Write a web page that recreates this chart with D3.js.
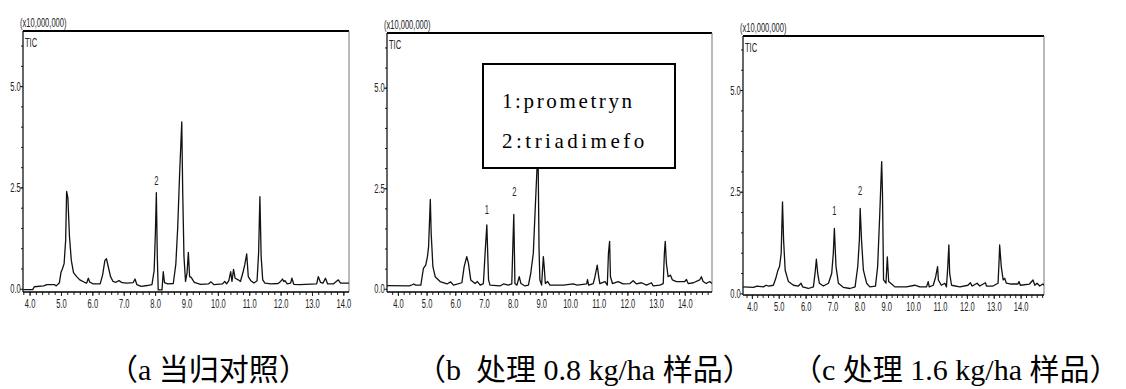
<!DOCTYPE html>
<html>
<head>
<meta charset="utf-8">
<script src="https://cdn.jsdelivr.net/npm/d3@7"></script>
<style>
  body { margin: 0; background: #fff; }
  svg { display: block; }
</style>
</head>
<body>
<div id="vis"></div>
<script>
// retention time (min), TIC intensity (x10,000,000)
var traceA = [[3.80,-0.02],[4.10,-0.02],[4.15,0.05],[4.45,0.07],[4.55,0.10],[4.80,0.10],[4.85,0.07],[4.95,0.15],[5.00,0.40],[5.05,0.50],[5.10,0.62],[5.15,1.20],[5.18,2.40],[5.22,2.25],[5.27,1.30],[5.33,0.70],[5.40,0.40],[5.50,0.30],[5.60,0.22],[5.75,0.16],[5.82,0.14],[5.87,0.26],[5.92,0.16],[6.03,0.12],[6.25,0.12],[6.33,0.35],[6.40,0.70],[6.45,0.74],[6.52,0.50],[6.58,0.30],[6.66,0.18],[6.75,0.16],[6.85,0.20],[6.95,0.15],[7.10,0.14],[7.30,0.15],[7.36,0.24],[7.42,0.10],[7.55,0.06],[7.75,0.08],[7.90,0.10],[7.97,0.45],[8.01,1.40],[8.04,2.37],[8.07,0.80],[8.10,-0.03],[8.22,-0.03],[8.26,0.42],[8.30,0.15],[8.40,0.12],[8.58,0.13],[8.66,0.60],[8.72,1.50],[8.78,2.80],[8.85,4.12],[8.88,2.40],[8.92,0.80],[8.97,0.18],[9.02,0.40],[9.06,0.90],[9.10,0.30],[9.15,0.28],[9.25,0.16],[9.45,0.11],[9.70,0.12],[9.78,0.17],[9.88,0.10],[10.15,0.12],[10.22,0.18],[10.28,0.12],[10.35,0.20],[10.41,0.42],[10.45,0.18],[10.50,0.48],[10.55,0.26],[10.65,0.22],[10.72,0.18],[10.80,0.40],[10.86,0.60],[10.92,0.86],[10.97,0.30],[11.05,0.20],[11.15,0.14],[11.25,0.20],[11.30,0.90],[11.34,2.27],[11.38,0.80],[11.43,0.22],[11.50,0.14],[11.70,0.12],[11.92,0.13],[12.00,0.18],[12.06,0.24],[12.10,0.18],[12.14,0.20],[12.21,0.12],[12.32,0.14],[12.36,0.26],[12.42,0.11],[12.61,0.10],[13.15,0.12],[13.20,0.30],[13.27,0.16],[13.35,0.14],[13.43,0.26],[13.50,0.12],[13.68,0.12],[13.84,0.22],[13.91,0.14],[14.18,0.14]];

var traceB = [[3.62,0.08],[4.40,0.07],[4.50,0.10],[4.55,0.12],[4.62,0.09],[4.80,0.09],[4.89,0.51],[4.97,0.59],[5.03,0.80],[5.07,1.05],[5.13,2.22],[5.16,1.38],[5.22,0.55],[5.30,0.30],[5.47,0.18],[5.71,0.12],[5.84,0.17],[5.94,0.09],[6.23,0.15],[6.31,0.55],[6.40,0.80],[6.46,0.63],[6.54,0.22],[6.69,0.13],[6.77,0.18],[6.87,0.09],[6.98,0.13],[7.04,0.88],[7.10,1.59],[7.16,0.22],[7.21,0.09],[7.56,0.07],[7.68,0.12],[7.85,0.09],[7.97,0.12],[8.00,0.88],[8.04,1.85],[8.08,0.13],[8.15,0.09],[8.23,0.30],[8.29,0.13],[8.43,0.07],[8.55,0.09],[8.63,0.38],[8.72,0.88],[8.80,2.20],[8.85,3.00],[8.88,3.80],[8.92,1.00],[8.95,0.22],[9.01,0.09],[9.07,0.80],[9.10,0.55],[9.14,0.13],[9.22,0.18],[9.30,0.09],[9.77,0.09],[10.11,0.12],[10.25,0.09],[10.58,0.12],[10.61,0.23],[10.65,0.09],[10.81,0.13],[10.87,0.30],[10.95,0.59],[11.00,0.30],[11.04,0.13],[11.22,0.18],[11.30,0.09],[11.34,0.88],[11.38,1.18],[11.41,0.30],[11.48,0.13],[11.68,0.18],[11.85,0.12],[12.09,0.13],[12.20,0.20],[12.32,0.12],[12.49,0.15],[12.67,0.09],[12.84,0.15],[12.90,0.07],[13.13,0.09],[13.25,0.13],[13.29,0.88],[13.32,1.18],[13.36,0.63],[13.42,0.30],[13.50,0.34],[13.57,0.22],[13.71,0.18],[14.00,0.18],[14.06,0.23],[14.12,0.13],[14.30,0.15],[14.52,0.22],[14.58,0.30],[14.64,0.18],[14.75,0.13],[14.87,0.18],[14.95,0.13]];

var traceC = [[3.67,0.16],[4.06,0.15],[4.19,0.18],[4.43,0.16],[4.53,0.20],[4.62,0.18],[4.80,0.20],[4.89,0.37],[4.97,0.57],[5.03,0.66],[5.09,0.98],[5.14,2.25],[5.18,1.31],[5.24,0.57],[5.36,0.29],[5.55,0.20],[5.73,0.18],[5.83,0.25],[5.89,0.16],[6.10,0.12],[6.29,0.16],[6.35,0.49],[6.40,0.84],[6.45,0.49],[6.51,0.25],[6.66,0.18],[6.85,0.25],[6.97,0.49],[7.03,0.98],[7.07,1.60],[7.13,0.66],[7.22,0.25],[7.40,0.15],[7.65,0.12],[7.84,0.16],[7.94,0.66],[8.00,1.31],[8.03,2.09],[8.08,1.31],[8.15,0.57],[8.27,0.25],[8.39,0.16],[8.60,0.18],[8.68,0.66],[8.76,1.97],[8.83,3.24],[8.86,2.46],[8.90,0.33],[8.99,0.25],[9.04,0.90],[9.09,0.29],[9.20,0.23],[9.32,0.16],[9.75,0.16],[10.06,0.20],[10.25,0.16],[10.50,0.16],[10.56,0.29],[10.60,0.16],[10.75,0.20],[10.84,0.41],[10.91,0.66],[10.94,0.33],[11.05,0.20],[11.18,0.25],[11.24,0.16],[11.29,0.66],[11.33,1.19],[11.36,0.49],[11.43,0.20],[11.74,0.16],[12.04,0.20],[12.13,0.26],[12.20,0.18],[12.38,0.25],[12.48,0.18],[12.69,0.26],[12.73,0.18],[12.97,0.18],[13.16,0.25],[13.20,0.82],[13.22,1.19],[13.28,0.66],[13.35,0.33],[13.41,0.37],[13.47,0.25],[13.65,0.23],[13.90,0.23],[13.94,0.29],[13.99,0.20],[14.33,0.23],[14.46,0.33],[14.53,0.20],[14.61,0.25],[14.71,0.18],[14.83,0.23],[14.87,0.20]];

var xTickValues = [4, 5, 6, 7, 8, 9, 10, 11, 12, 13, 14];
var xTickLabels = ['4.0', '5.0', '6.0', '7.0', '8.0', '9.0', '10.0', '11.0', '12.0', '13.0', '14.0'];
var yTickValues = [0, 2.5, 5];
var yTickLabels = ['0.0', '2.5', '5.0'];

// peak number, retention time, label height
var peakLabelsA = [['2', 8.04, 2.68]];
var peakLabelsB = [['1', 7.10, 1.97], ['2', 8.06, 2.43]];
var peakLabelsC = [['1', 7.07, 2.05], ['2', 8.03, 2.54]];

var legendItems = ['1:prometryn', '2:triadimefo'];
var captions = ['（a 当归对照）', '（b  处理 0.8 kg/ha 样品）', '（c 处理 1.6 kg/ha 样品）'];

var width = 1126;
var height = 389;

var panels = [
  { trace: traceA, peaks: peakLabelsA, left: 23, right: 349, top: 31, bottom: 292,
    tDomain: [3.79, 14.18], vDomain: [-0.08, 6.36], captionX: 108, legend: false },
  { trace: traceB, peaks: peakLabelsB, left: 387, right: 712, top: 33, bottom: 292,
    tDomain: [3.62, 14.95], vDomain: [-0.08, 6.36], captionX: 416, legend: true },
  { trace: traceC, peaks: peakLabelsC, left: 743, right: 1044, top: 36, bottom: 295,
    tDomain: [3.67, 14.87], vDomain: [-0.04, 6.33], captionX: 792, legend: false }
];

var svg = d3.select('#vis').append('svg')
  .attr('width', width)
  .attr('height', height);

var narrow = 'scale(0.58,1)';
var smallFont = '"Liberation Sans", Arial, sans-serif';

function drawPanel(p, i) {
  var x = d3.scaleLinear().domain(p.tDomain).range([p.left, p.right]);
  var y = d3.scaleLinear().domain(p.vDomain).range([p.bottom, p.top]);
  var g = svg.append('g').attr('class', 'panel');

  g.append('clipPath').attr('id', 'clip' + i)
    .append('rect')
    .attr('x', p.left).attr('y', p.top)
    .attr('width', p.right - p.left).attr('height', p.bottom - p.top);

  // minor ticks
  var minorX = d3.range(3.8, p.tDomain[1], 0.2).filter(function (t) {
    return t >= p.tDomain[0] && t <= p.tDomain[1];
  });
  g.append('g')
    .attr('transform', 'translate(0,' + p.bottom + ')')
    .call(d3.axisBottom(x).tickValues(minorX).tickSize(3).tickFormat(''))
    .call(function (a) { a.select('.domain').remove(); });

  g.append('g')
    .attr('transform', 'translate(' + p.left + ',0)')
    .call(d3.axisLeft(y).tickValues(d3.range(0.5, 6.3, 0.5)).tickSize(2).tickFormat(''))
    .call(function (a) { a.select('.domain').remove(); });

  var xAxis = g.append('g')
    .attr('transform', 'translate(0,' + p.bottom + ')')
    .call(d3.axisBottom(x).tickValues(xTickValues).tickSize(4).tickPadding(3)
      .tickFormat(function (d, k) { return xTickLabels[k]; }));
  xAxis.select('.domain').remove();

  var yAxis = g.append('g')
    .attr('transform', 'translate(' + p.left + ',0)')
    .call(d3.axisLeft(y).tickValues(yTickValues).tickSize(3).tickPadding(1)
      .tickFormat(function (d, k) { return yTickLabels[k]; }));
  yAxis.select('.domain').remove();

  g.selectAll('.tick line').attr('stroke', '#222');
  g.selectAll('.tick text')
    .attr('font-family', smallFont)
    .attr('font-size', 13)
    .attr('fill', '#222')
    .attr('transform', narrow);

  // frame
  g.append('line').attr('x1', p.left).attr('x2', p.right).attr('y1', p.top).attr('y2', p.top)
    .attr('stroke', '#000').attr('stroke-width', 2);
  g.append('line').attr('x1', p.right).attr('x2', p.right).attr('y1', p.top).attr('y2', p.bottom)
    .attr('stroke', '#777').attr('stroke-width', 1);
  g.append('line').attr('x1', p.left).attr('x2', p.left).attr('y1', p.top).attr('y2', p.bottom)
    .attr('stroke', '#000').attr('stroke-width', 1.2);
  g.append('line').attr('x1', p.left).attr('x2', p.right).attr('y1', p.bottom).attr('y2', p.bottom)
    .attr('stroke', '#000').attr('stroke-width', 1.5);

  var line = d3.line()
    .x(function (d) { return x(d[0]); })
    .y(function (d) { return y(d[1]); });

  g.append('path')
    .datum(p.trace)
    .attr('clip-path', 'url(#clip' + i + ')')
    .attr('fill', 'none')
    .attr('stroke', '#111')
    .attr('stroke-width', 1.3)
    .attr('stroke-linejoin', 'round')
    .attr('d', line);

  g.selectAll('.peak')
    .data(p.peaks)
    .enter().append('text')
    .attr('class', 'peak')
    .attr('transform', function (d) { return 'translate(' + x(d[1]) + ',' + y(d[2]) + ') ' + narrow; })
    .attr('text-anchor', 'middle')
    .attr('dy', '0.35em')
    .attr('font-family', smallFont)
    .attr('font-size', 13)
    .attr('fill', '#222')
    .text(function (d) { return d[0]; });

  g.append('text')
    .attr('transform', 'translate(' + (p.left - 3) + ',' + (p.top - 9) + ') ' + narrow)
    .attr('dy', '0.35em')
    .attr('font-family', smallFont)
    .attr('font-size', 13)
    .attr('fill', '#222')
    .text('(x10,000,000)');

  g.append('text')
    .attr('transform', 'translate(' + (p.left + 2) + ',' + (p.top + 11) + ') ' + narrow)
    .attr('dy', '0.35em')
    .attr('font-family', smallFont)
    .attr('font-size', 13)
    .attr('fill', '#222')
    .text('TIC');

  if (p.legend) {
    var lg = g.append('g').attr('transform', 'translate(' + (p.left + 96) + ',' + (p.top + 31) + ')');
    lg.append('rect')
      .attr('width', 192).attr('height', 104)
      .attr('fill', '#fff').attr('stroke', '#000').attr('stroke-width', 2);
    // serif text spread out to look like the half-width Song face
    lg.selectAll('.item')
      .data(legendItems)
      .enter().append('text')
      .attr('class', 'item')
      .attr('x', 19)
      .attr('y', function (d, k) { return 37 + k * 40; })
      .attr('dy', '0.35em')
      .attr('font-family', '"Liberation Serif", "Times New Roman", serif')
      .attr('font-size', 21)
      .attr('textLength', function (d) { return d.length * 12.1 - 3; })
      .attr('lengthAdjust', 'spacing')
      .attr('fill', '#000')
      .text(function (d) { return d; });
  }

  svg.append('text')
    .attr('x', p.captionX)
    .attr('y', 380)
    .attr('font-family', '"Liberation Serif", "Noto Sans CJK SC", serif')
    .attr('font-size', 30)
    .attr('fill', '#000')
    .style('white-space', 'pre')
    .text(captions[i]);
}

panels.forEach(drawPanel);
</script>
</body>
</html>
